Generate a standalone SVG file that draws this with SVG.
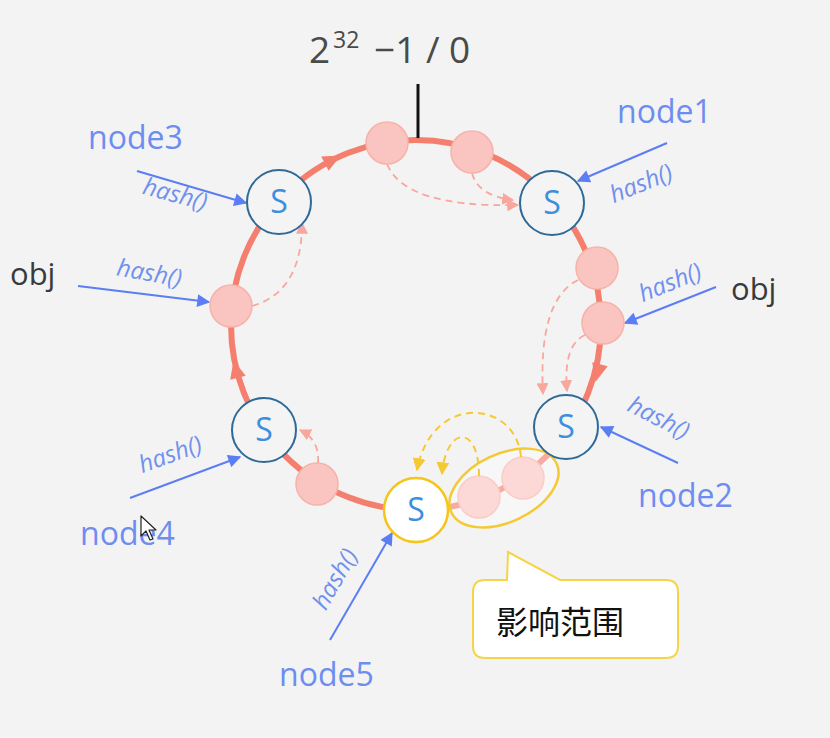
<svg xmlns="http://www.w3.org/2000/svg" width="830" height="738" viewBox="0 0 830 738">
<defs>
<style>
.ring{fill:none;stroke:#F47F6E;stroke-width:6}
.srv{fill:#F4F4F4;stroke:#2D6A99;stroke-width:2}
.s{font-family:"Open Sans","Noto Sans",sans-serif;font-size:32px;fill:#3C8FDF;text-anchor:middle}
.pk{fill:#FAC5C0;stroke:#F7B2AA;stroke-width:1.5}
.lbl{font-family:"Open Sans","Noto Sans",sans-serif;font-size:32px;fill:#6D8DF0}
.hash{font-family:"Open Sans","Noto Sans",sans-serif;font-size:24px;font-style:italic;fill:#7090EE;text-anchor:middle}
.obj{font-family:"Open Sans","Noto Sans",sans-serif;font-size:31px;fill:#3A3A3A}
.ba{fill:none;stroke:#5B7EF4;stroke-width:2;marker-end:url(#mb)}
.pd{fill:none;stroke:#F8A79C;stroke-width:1.8;stroke-dasharray:7 5;marker-end:url(#mp)}
.yd{fill:none;stroke:#F5C934;stroke-width:2;stroke-dasharray:7 5;marker-end:url(#my)}
</style>
<marker id="mb" viewBox="0 0 10 10" refX="9" refY="5" markerWidth="14" markerHeight="13" markerUnits="userSpaceOnUse" orient="auto"><path d="M0,0 L10,5 L0,10 z" fill="#5B7EF4"/></marker>
<marker id="mp" viewBox="0 0 10 10" refX="9" refY="5" markerWidth="12" markerHeight="12" markerUnits="userSpaceOnUse" orient="auto"><path d="M0,0 L10,5 L0,10 z" fill="#F8A79C"/></marker>
<marker id="my" viewBox="0 0 10 10" refX="9" refY="5" markerWidth="13" markerHeight="13" markerUnits="userSpaceOnUse" orient="auto"><path d="M0,0 L10,5 L0,10 z" fill="#F5C934"/></marker>
</defs>
<rect width="830" height="738" fill="#F3F3F3"/>

<g id="ring">
<circle class="ring" cx="416" cy="325" r="185"/>
<polygon points="10,0 -8,-8 -8,8" fill="#F47F6E" transform="translate(332,160) rotate(-27.5)"/>
<polygon points="10,0 -8,-8 -8,8" fill="#F47F6E" transform="translate(236,370) rotate(-104)"/>
<polygon points="10,0 -8,-8 -8,8" fill="#F47F6E" transform="translate(598,372) rotate(104)"/>
</g>

<g id="top-label">
<text font-family="'Open Sans','Noto Sans',sans-serif" font-size="37" fill="#4A4A4A" x="309" y="63">2</text>
<text font-family="'Open Sans','Noto Sans',sans-serif" font-size="23" fill="#4A4A4A" x="333" y="48">32</text>
<text font-family="'Open Sans','Noto Sans',sans-serif" font-size="37" fill="#4A4A4A" x="374" y="63">−1 / 0</text>
<line x1="418" y1="84" x2="418" y2="138" stroke="#111" stroke-width="3"/>
</g>

<g id="connectors">
<path class="ba" d="M137,171 L246,203"/>
<path class="ba" d="M667,143 L578,181"/>
<path class="ba" d="M78,286 L209,302"/>
<path class="ba" d="M716,287 L625,323"/>
<path class="ba" d="M678,463 L601,427"/>
<path class="ba" d="M130,498 L240,457"/>
<path class="ba" d="M330,640 L392,533"/>
<path class="pd" d="M387,164 Q405,208 518,205"/>
<path class="pd" d="M472,173 Q478,196 513,200"/>
<path class="pd" d="M578,280 Q538,300 543,394"/>
<path class="pd" d="M585,335 Q563,345 567,391"/>
<path class="pd" d="M252,306 Q302,292 302,223"/>
<path class="pd" d="M318,463 Q320,440 300,430"/>
</g>

<g id="pink-points">
<circle class="pk" cx="387" cy="143" r="21"/>
<circle class="pk" cx="472" cy="152" r="21"/>
<circle class="pk" cx="597" cy="268" r="21"/>
<circle class="pk" cx="603" cy="323" r="21"/>
<circle class="pk" cx="231" cy="306" r="21"/>
<circle class="pk" cx="317" cy="484" r="21"/>
<circle class="pk" cx="479" cy="497" r="21"/>
<circle class="pk" cx="523" cy="478" r="21"/>
</g>

<g id="impact-ellipse">
<ellipse cx="504" cy="488" rx="58" ry="34" transform="rotate(-25 504 488)" fill="#FFFFFF" fill-opacity="0.35" stroke="#F5C934" stroke-width="2.5"/>
<path class="yd" d="M521,457 C516,400 432,392 417,470"/>
<path class="yd" d="M479,476 C479,423 446,426 442,474"/>
</g>

<g id="node3"><circle class="srv" cx="279" cy="202" r="32"/><text class="s" x="279" y="213">S</text>
<text class="lbl" x="88" y="149">node3</text>
<text class="hash" transform="translate(173,202) rotate(15)">hash()</text></g>

<g id="node1"><circle class="srv" cx="552" cy="203" r="32"/><text class="s" x="552" y="214">S</text>
<text class="lbl" x="617" y="123">node1</text>
<text class="hash" transform="translate(644,191) rotate(-22)">hash()</text></g>

<g id="node2"><circle class="srv" cx="566" cy="427" r="32"/><text class="s" x="566" y="438">S</text>
<text class="lbl" x="638" y="507">node2</text>
<text class="hash" transform="translate(655,425) rotate(27)">hash()</text></g>

<g id="node4"><circle class="srv" cx="264" cy="430" r="32"/><text class="s" x="264" y="441">S</text>
<text class="lbl" x="80" y="545">node4</text>
<text class="hash" transform="translate(173,462) rotate(-20)">hash()</text></g>

<g id="node5"><circle cx="416" cy="510" r="32" fill="#FFFFFF" stroke="#F5C518" stroke-width="2.5"/><text class="s" x="416" y="521">S</text>
<text class="lbl" x="279" y="686">node5</text>
<text class="hash" transform="translate(342,583) rotate(-60)">hash()</text></g>

<g id="obj-left"><text class="obj" x="10" y="285">obj</text>
<text class="hash" transform="translate(148,281) rotate(10)">hash()</text></g>

<g id="obj-right"><text class="obj" x="731" y="300">obj</text>
<text class="hash" transform="translate(673,290) rotate(-22)">hash()</text></g>

<g id="callout">
<path d="M485,580 L507,580 L508,552 L560,580 L666,580 Q678,580 678,592 L678,646 Q678,658 666,658 L485,658 Q473,658 473,646 L473,592 Q473,580 485,580 Z" fill="#FFFFFF" stroke="#F5D547" stroke-width="2"/>
<text font-family="'Noto Sans CJK SC','Noto Sans',sans-serif" font-size="32" fill="#111" x="496" y="634">影响范围</text>
</g>

<g id="cursor">
<path d="M141,516 L141,536 L146,531 L150,540 L153,539 L149,530 L156,530 Z" fill="#FFFFFF" stroke="#222" stroke-width="1.2" stroke-linejoin="round"/>
</g>
</svg>
